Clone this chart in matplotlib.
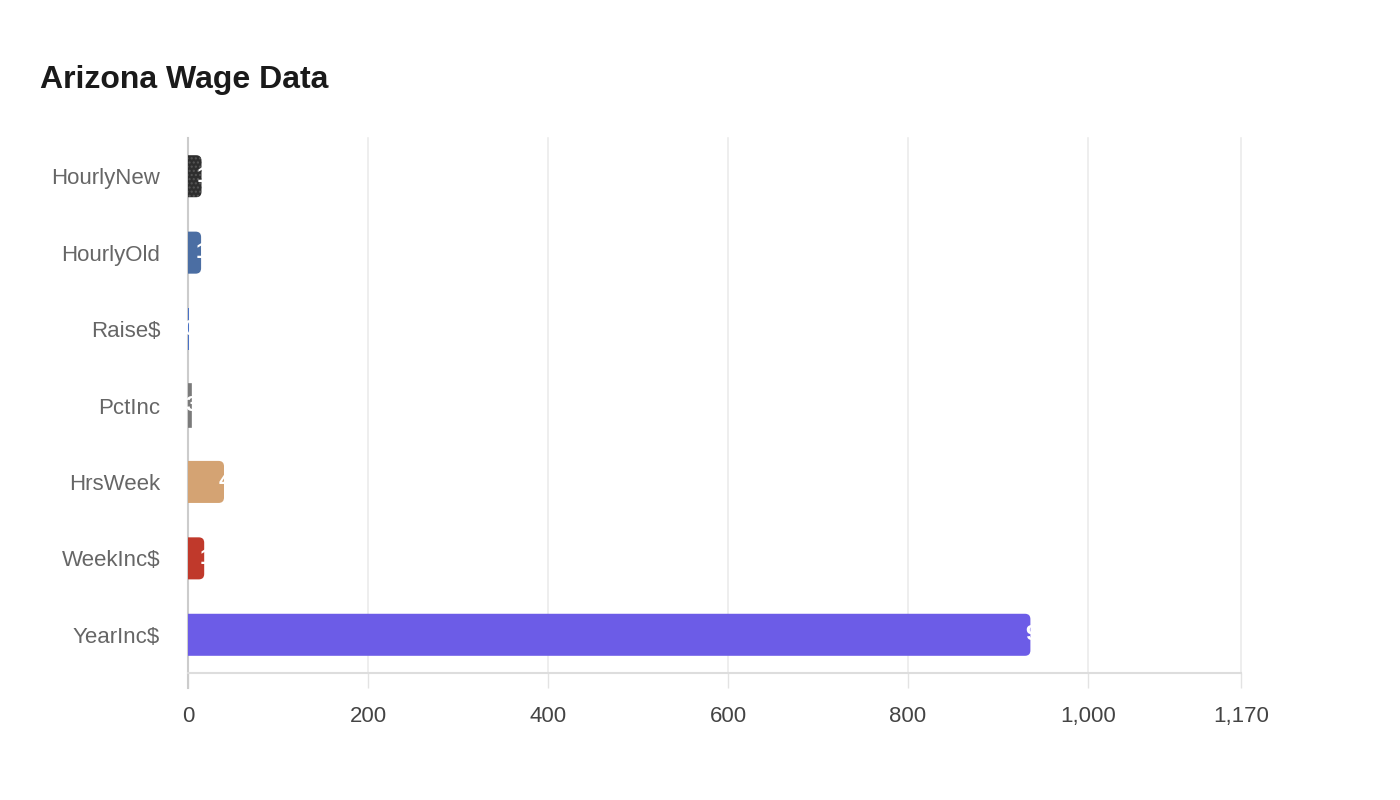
import matplotlib.pyplot as plt
from matplotlib.patches import FancyBboxPatch

plt.rcParams['font.family'] = ['Liberation Sans', 'DejaVu Sans']

categories = ['HourlyNew', 'HourlyOld', 'Raise$', 'PctInc', 'HrsWeek', 'WeekInc$', 'YearInc$']
values = [15.00, 14.55, 0.45, 3.09, 40, 18, 936]
labels = ['15', '14.55', '0.45', '3.09', '40', '18', '936']
colors = ['#2e2e2e', '#4b6ea3', '#2f5fc4', '#7a7a7a', '#d4a373', '#c0392b', '#6c5ce7']
xticks = [0, 200, 400, 600, 800, 1000, 1170]

fig = plt.figure(figsize=(14, 8), dpi=100)
ax = fig.add_axes([188 / 1400, 1 - 673 / 800, (1241 - 188) / 1400, (673 - 138) / 800])

ypos = list(range(len(categories)))
bars = ax.barh(ypos, values, height=0.55, color=colors)

ax.set_xlim(0, 1170)
ax.set_ylim(len(categories) - 0.5, -0.5)

# swap plain rectangles for ones rounded on the right end
r = 6.0
aspect = (1170 / 1053) ** -1 * (1 / 76.4)
for b, c, v, lab in zip(bars, colors, values, labels):
    x0, y0, h = b.get_x(), b.get_y(), b.get_height()
    w = b.get_width()
    b.set_visible(False)
    if w > r:
        p = FancyBboxPatch((x0 - r, y0), w + r, h,
                           boxstyle=f'round,pad=0,rounding_size={r}',
                           mutation_aspect=aspect, fc=c, ec='none', zorder=3)
    else:
        p = plt.Rectangle((x0, y0), w, h, fc=c, ec=c, lw=1.2, zorder=3)
    if lab == '15':
        p.set_hatch('....')
        p.set_edgecolor('#555555')
        p.set_linewidth(0)
    ax.add_patch(p)
    ax.annotate(lab, xy=(v, y0 + h / 2), xytext=(-5, 0), textcoords='offset pixels',
                ha='left', va='center', color='white', fontsize=16,
                fontweight='bold', zorder=4)

ax.set_yticks(ypos)
ax.set_yticklabels(categories)
ax.set_xticks(xticks)
ax.set_xticklabels([f'{t:,}' for t in xticks])

ax.tick_params(axis='y', length=0, pad=20, labelsize=16, labelcolor='#666666')
ax.tick_params(axis='x', length=11, width=1, color='#e3e3e3', pad=13,
               labelsize=16, labelcolor='#444444')

ax.grid(axis='x', color='#ebebeb', linewidth=1.2, zorder=0)
for gl in ax.get_xgridlines():
    gl.set_clip_on(False)
ax.set_axisbelow(True)
for s in ['top', 'right']:
    ax.spines[s].set_visible(False)
ax.spines['left'].set_color('#cccccc')
ax.spines['left'].set_linewidth(1.5)
ax.spines['left'].set_zorder(2)
ax.spines['left'].set_bounds(len(categories) - 0.5 + 0.2, -0.5)
ax.spines['bottom'].set_color('#dddddd')
ax.spines['bottom'].set_linewidth(1.5)

fig.text(40 / 1400, 1 - 80 / 800, 'Arizona Wage Data', fontsize=23,
         fontweight='bold', color='#1a1a1a', va='center', ha='left')

fig.savefig('out.png', dpi=100, facecolor='white')
